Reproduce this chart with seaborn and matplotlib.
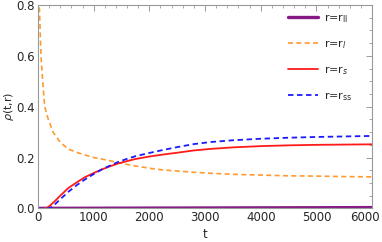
import numpy as np
import pandas as pd
import matplotlib
matplotlib.use('Agg')
import matplotlib.pyplot as plt
import matplotlib.transforms as mtransforms
import seaborn as sns
from matplotlib.ticker import MultipleLocator

# values
t_ll = [0, 1000, 2000, 3000, 4000, 5000, 6000]
rho_ll = [0.0, 0.0005, 0.001, 0.0015, 0.002, 0.0025, 0.003]

t_l = [0, 23, 54, 84, 120, 185, 270, 400, 545, 700, 845, 1000, 1145, 1300,
       1445, 1600, 1745, 2000, 2250, 2500, 2800, 3100, 3500, 4000, 4500,
       5000, 5500, 6000]
rho_l = [0.86, 0.80, 0.60, 0.50, 0.40, 0.35, 0.30, 0.26, 0.233, 0.22, 0.21,
         0.20, 0.194, 0.187, 0.18, 0.173, 0.167, 0.158, 0.151, 0.147, 0.142,
         0.138, 0.134, 0.131, 0.128, 0.127, 0.125, 0.124]

t_s = [0, 150, 200, 300, 400, 545, 700, 845, 1000, 1145, 1300, 1445, 1600,
       1745, 2000, 2250, 2500, 2800, 3100, 3500, 4000, 4500, 5000, 5500, 6000]
rho_s = [0.0, 0.0, 0.008, 0.028, 0.05, 0.08, 0.103, 0.123, 0.139, 0.153,
         0.166, 0.177, 0.186, 0.194, 0.204, 0.212, 0.219, 0.228, 0.234, 0.240,
         0.245, 0.248, 0.250, 0.251, 0.252]

t_ss = [0, 200, 250, 300, 400, 545, 700, 845, 1000, 1145, 1300, 1445, 1600,
        1745, 2000, 2250, 2500, 2800, 3100, 3500, 4000, 4500, 5000, 5500, 6000]
rho_ss = [0.0, 0.0, 0.006, 0.015, 0.036, 0.065, 0.092, 0.114, 0.135, 0.153,
          0.169, 0.183, 0.195, 0.205, 0.218, 0.230, 0.241, 0.253, 0.261, 0.268,
          0.274, 0.278, 0.281, 0.283, 0.285]

labels = [r'r=r$_{\mathrm{ll}}$', r'r=r$_{l}$', r'r=r$_{s}$', r'r=r$_{\mathrm{ss}}$']

sns.set_style('white')
plt.rcParams['font.family'] = ['DejaVu Sans']
plt.rcParams['mathtext.fontset'] = 'dejavusans'

fig = plt.figure(figsize=(3.82, 2.42), dpi=100)
ax = fig.add_axes([0.0995, 0.139, 0.8745, 0.840])

sns.lineplot(x=t_ll, y=rho_ll, ax=ax, color='#851A85', lw=2.4, label=labels[0])
sns.lineplot(x=t_l, y=rho_l, ax=ax, color='#FF9A2E', lw=1.2, label=labels[1])
sns.lineplot(x=t_s, y=rho_s, ax=ax, color='#FF1A1A', lw=1.3, label=labels[2])
sns.lineplot(x=t_ss, y=rho_ss, ax=ax, color='#1A1AFF', lw=1.3, label=labels[3])
ax.lines[1].set_dashes([3, 2])
ax.lines[3].set_dashes([3, 2])

ax.set_xlim(0, 6000)
ax.set_ylim(0, 0.8)
ax.xaxis.set_major_locator(MultipleLocator(1000))
ax.xaxis.set_minor_locator(MultipleLocator(200))
ax.yaxis.set_major_locator(MultipleLocator(0.2))
ax.yaxis.set_minor_locator(MultipleLocator(0.05))
ax.yaxis.set_major_formatter(matplotlib.ticker.FormatStrFormatter('%.1f'))
ax.tick_params(which='both', direction='in', top=True, right=True,
               color='#999999', labelsize=8.5, pad=2)
ax.tick_params(which='major', length=4, width=0.7)
ax.tick_params(which='minor', length=2.3, width=0.6)
for s in ax.spines.values():
    s.set_color('#999999')
    s.set_linewidth(0.8)

ax.set_xlabel('t', fontsize=8.5, labelpad=3)
ax.set_ylabel(r'$\rho$(t,r)', fontsize=8)
ax.yaxis.set_label_coords(-0.066, 0.5)

leg = ax.legend(loc='upper right', frameon=False, fontsize=8,
                labelspacing=1.2, handlelength=2.7, handletextpad=0.6,
                bbox_to_anchor=(0.965, 1.005), borderaxespad=0.3)

# keep the last x tick label inside the figure, as in the reference
fig.canvas.draw()
last = [tk for tk in ax.xaxis.get_major_ticks() if abs(tk.get_loc() - 6000) < 1][0]
last.label1.set_transform(last.label1.get_transform() +
                          mtransforms.ScaledTranslation(-7 / 100, 0, fig.dpi_scale_trans))

fig.savefig('out.png', dpi=100)
